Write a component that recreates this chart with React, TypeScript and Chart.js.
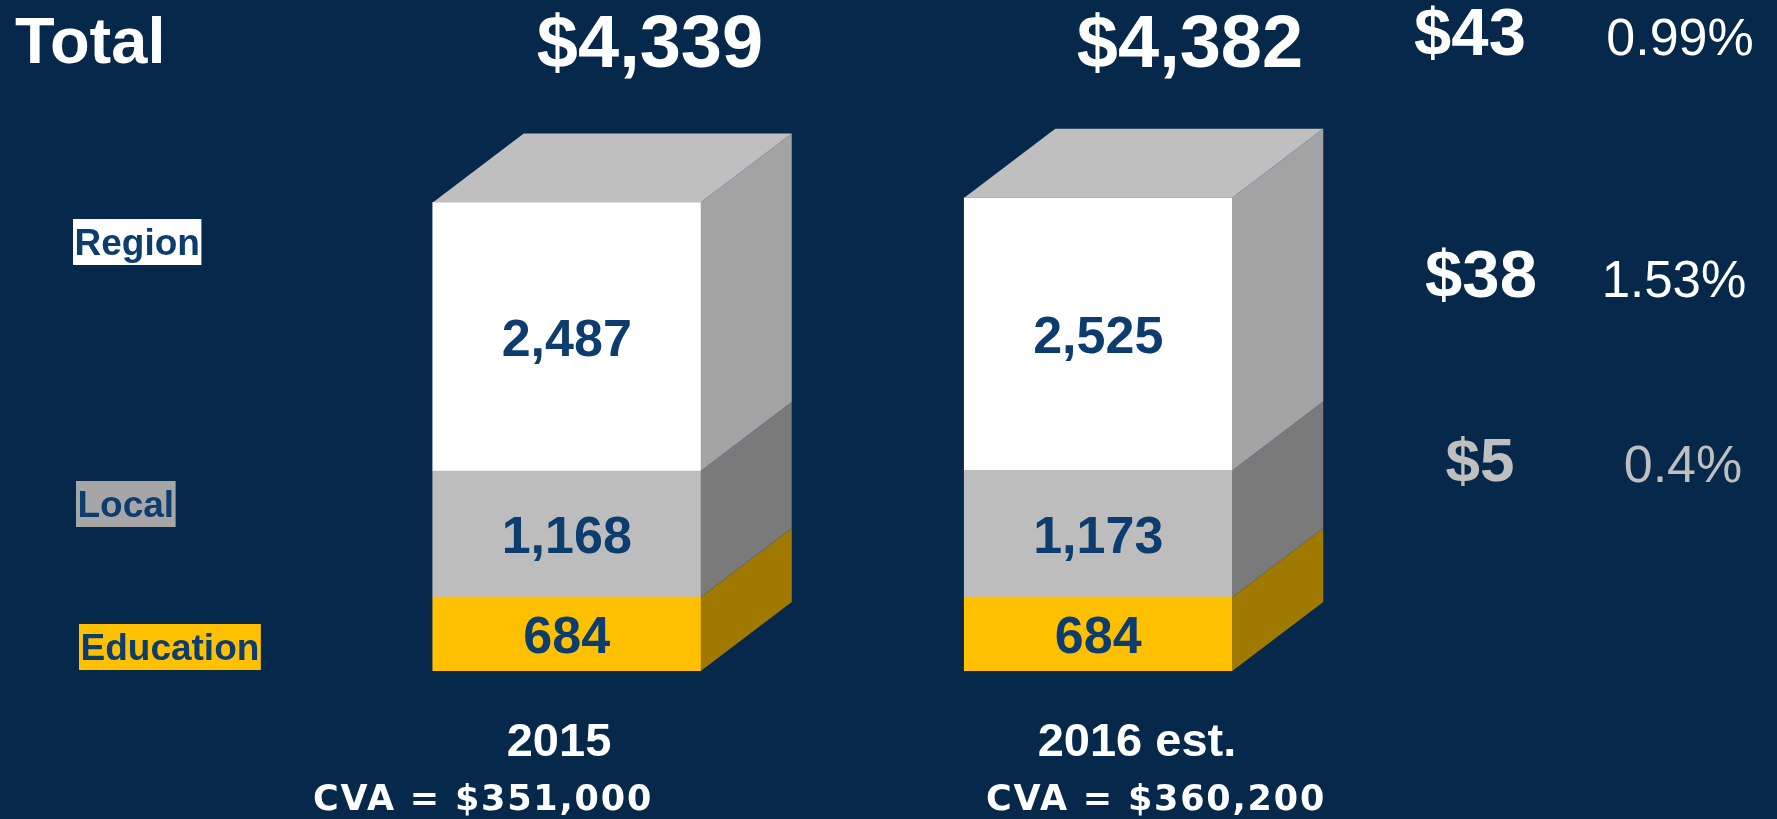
import React, { useEffect, useRef } from "react";
import { Chart, registerables } from "chart.js";

Chart.register(...registerables);

// ---------- data ----------
const categories = ["2015", "2016 est."];
const seriesNames = ["Education", "Local", "Region"];
const educationValues = [684, 684];
const localValues = [1168, 1173];
const regionValues = [2487, 2525];
const totalLabels = ["$4,339", "$4,382"];
const cvaLabels = ["CVA = $351,000", "CVA = $360,200"];
const changeLabels = ["$43", "$38", "$5"];
const pctLabels = ["0.99%", "1.53%", "0.4%"];
const titleLabel = "Total";

// ---------- styles / layout ----------
const BG = "#06284A";
const TEXT_BLUE = "#0D3D6E";
const frontColors = ["#FFC000", "#BDBDBD", "#FFFFFF"];
const sideColors = ["#A07A00", "#7A7A7A", "#A3A3A3"];
const legendBoxColors = ["#FFC000", "#A6A6A6", "#FFFFFF"];
const TOP_COLOR = "#BFBFBF";
const DX = 91;
const DY = 69;
const SANS = '"Liberation Sans", Arial, sans-serif';
const WIDE = '"DejaVu Sans", Verdana, sans-serif';

const L = {
  title: { x: 15, y: 63, size: 65 },
  totals: { x: [650, 1190], y: 67, size: 74 },
  years: { x: [559, 1137], y: 756, size: 47 },
  cva: { x: [483, 1156], y: 810, size: 35 },
  legend: [
    { x: 79, y: 624, h: 46 }, // Education
    { x: 76, y: 481, h: 46 }, // Local
    { x: 73, y: 219, h: 46 }, // Region
  ],
  changes: [
    { x: 1470, y: 55, size: 67, color: "#FFFFFF" },
    { x: 1481, y: 297, size: 67, color: "#FFFFFF" },
    { x: 1480, y: 481, size: 62, color: "#BFBFBF" },
  ],
  pcts: [
    { x: 1680, y: 55, size: 52, color: "#FFFFFF" },
    { x: 1674, y: 297, size: 51, color: "#FFFFFF" },
    { x: 1683, y: 482, size: 52, color: "#BFBFBF" },
  ],
};

const cubePlugin = {
  id: "cube3d",
  afterDatasetsDraw(chart: any) {
    const ctx: CanvasRenderingContext2D = chart.ctx;
    ctx.save();
    const n = chart.data.datasets.length;
    for (let j = 0; j < categories.length; j++) {
      let topBar: any = null;
      for (let i = 0; i < n; i++) {
        const bar: any = chart.getDatasetMeta(i).data[j];
        const { x, y, base, width } = bar.getProps(["x", "y", "base", "width"], true);
        const x1 = x + width / 2;
        ctx.fillStyle = sideColors[i];
        ctx.beginPath();
        ctx.moveTo(x1, y);
        ctx.lineTo(x1 + DX, y - DY);
        ctx.lineTo(x1 + DX, base - DY);
        ctx.lineTo(x1, base);
        ctx.closePath();
        ctx.fill();
        topBar = { x, y, width };
      }
      if (topBar) {
        const x0 = topBar.x - topBar.width / 2;
        const x1 = topBar.x + topBar.width / 2;
        ctx.fillStyle = TOP_COLOR;
        ctx.beginPath();
        ctx.moveTo(x0, topBar.y);
        ctx.lineTo(x0 + DX, topBar.y - DY);
        ctx.lineTo(x1 + DX, topBar.y - DY);
        ctx.lineTo(x1, topBar.y);
        ctx.closePath();
        ctx.fill();
      }
      // segment value labels
      for (let i = 0; i < n; i++) {
        const bar: any = chart.getDatasetMeta(i).data[j];
        const { x, y, base } = bar.getProps(["x", "y", "base"], true);
        const v = chart.data.datasets[i].data[j] as number;
        ctx.fillStyle = TEXT_BLUE;
        ctx.font = `bold 52px ${SANS}`;
        ctx.textAlign = "center";
        ctx.textBaseline = "alphabetic";
        ctx.fillText(v.toLocaleString("en-US"), x, (y + base) / 2 + 19);
      }
    }

    ctx.textBaseline = "alphabetic";
    // title
    ctx.fillStyle = "#FFFFFF";
    ctx.textAlign = "left";
    ctx.font = `bold ${L.title.size}px ${SANS}`;
    ctx.fillText(titleLabel, L.title.x, L.title.y);

    // totals
    ctx.textAlign = "center";
    ctx.font = `bold ${L.totals.size}px ${SANS}`;
    totalLabels.forEach((t, j) => ctx.fillText(t, L.totals.x[j], L.totals.y));

    // years
    ctx.font = `bold ${L.years.size}px ${SANS}`;
    categories.forEach((t, j) => ctx.fillText(t, L.years.x[j], L.years.y));

    // CVA
    ctx.font = `bold ${L.cva.size}px ${WIDE}`;
    (ctx as any).letterSpacing = "1.8px";
    cvaLabels.forEach((t, j) => ctx.fillText(t, L.cva.x[j], L.cva.y));
    (ctx as any).letterSpacing = "0px";

    // change column
    changeLabels.forEach((t, k) => {
      const p = L.changes[k];
      ctx.fillStyle = p.color;
      ctx.font = `bold ${p.size}px ${SANS}`;
      ctx.fillText(t, p.x, p.y);
    });
    pctLabels.forEach((t, k) => {
      const p = L.pcts[k];
      ctx.fillStyle = p.color;
      ctx.font = `${p.size}px ${SANS}`;
      ctx.fillText(t, p.x, p.y);
    });

    // legend boxes
    ctx.textAlign = "left";
    ctx.font = `bold 37px ${SANS}`;
    seriesNames.forEach((name, i) => {
      const p = L.legend[i];
      const w = ctx.measureText(name).width + 3;
      ctx.fillStyle = legendBoxColors[i];
      ctx.fillRect(p.x, p.y, w, p.h);
      ctx.fillStyle = TEXT_BLUE;
      ctx.fillText(name, p.x + 1.5, p.y + p.h / 2 + 13);
    });
    ctx.restore();
  },
};

export default function App() {
  const canvasRef = useRef<HTMLCanvasElement | null>(null);

  useEffect(() => {
    document.body.style.margin = "0";
    document.body.style.background = BG;
    const canvas = canvasRef.current;
    if (!canvas) return;
    const chart = new Chart(canvas, {
      type: "bar",
      data: {
        labels: categories,
        datasets: [
          { label: seriesNames[0], data: educationValues, backgroundColor: frontColors[0] },
          { label: seriesNames[1], data: localValues, backgroundColor: frontColors[1] },
          { label: seriesNames[2], data: regionValues, backgroundColor: frontColors[2] },
        ],
      },
      options: {
        animation: false,
        responsive: false,
        devicePixelRatio: 1,
        layout: { padding: { left: 301, right: 413, top: 131, bottom: 148 } },
        datasets: { bar: { barThickness: 268, borderWidth: 0 } } as any,
        scales: {
          x: { stacked: true, display: false },
          y: { stacked: true, display: false, min: 0, max: 5000 },
        },
        plugins: {
          legend: { display: false },
          tooltip: { enabled: false },
          title: { display: false },
        },
      },
      plugins: [cubePlugin],
    });
    return () => chart.destroy();
  }, []);

  return (
    <div style={{ position: "absolute", left: 0, top: 0, width: 1777, height: 819, background: BG }}>
      <canvas ref={canvasRef} width={1777} height={819} style={{ width: 1777, height: 819, display: "block" }} />
    </div>
  );
}
